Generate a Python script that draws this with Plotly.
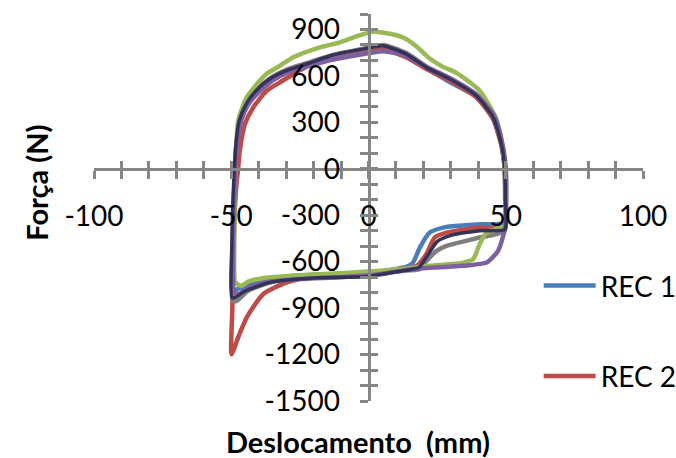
import plotly.graph_objects as go

# ---- data ----
rec1_x = [-49.6, -49.4, -49.1, -48.7, -48.1, -46.9, -44.4, -40.8, -35.9, -29.9, -22.6, -12.9, -0.7, 5.3, 13.8, 21.1, 29.6, 39.3, 45.4, 48.4, 49.6, 49.8, 49.6, 40.5, 28.4, 22.3, 18.7, 16.2, 13.8, 10, 0, -10, -20, -30, -38, -44, -47.5, -49.6]
rec1_y = [-790, -500, -250, -13, 160, 310, 418, 504, 580, 634, 677, 730, 774, 790, 738, 650, 560, 465, 330, 160, 8, -200, -347, -358, -375, -412, -509, -606, -634, -648, -670, -678, -685, -695, -712, -745, -775, -790]

rec2_x = [-49.9, -49.6, -49.3, -48.8, -48.1, -47.5, -46.9, -45.0, -42.0, -37.1, -32.3, -22.6, -12.9, -0.7, 5.3, 13.8, 21.1, 29.6, 39.3, 45.4, 48.4, 49.6, 49.8, 49.6, 40.5, 28.4, 24.1, 21.1, 17.5, 10, 0, -10, -20, -30, -38.4, -44.4, -47.5, -49.9]
rec2_y = [-1198, -900, -600, -300, -100, 0, 116, 289, 396, 504, 558, 660, 720, 760, 770, 720, 645, 570, 462, 320, 150, 0, -200, -379, -379, -412, -444, -551, -627, -650, -675, -680, -690, -735, -810, -961, -1090, -1198]

rec3_x = [-48.7, -48.9, -48.8, -48.5, -48.1, -47.5, -44.4, -39.6, -37.2, -32.3, -27.4, -17.7, -10.4, -4.4, 1.7, 7.8, 13.0, 17.5, 22.3, 27.0, 32.0, 40.5, 46.6, 49.0, 49.8, 49.8, 49.6, 43.0, 40.5, 38.1, 34.4, 22.3, 4.1, -10, -25, -38, -44, -46.2, -47.8, -48.7]
rec3_y = [-724, -500, -250, 0, 160, 310, 461, 569, 612, 665, 720, 784, 817, 855, 885, 872, 845, 790, 712, 660, 620, 505, 320, 120, -10, -200, -368, -412, -487, -584, -606, -627, -659, -675, -688, -705, -730, -756, -745, -724]

rec4_x = [-49.0, -49.3, -49.0, -48.5, -47.8, -46.5, -44.0, -40.0, -35.0, -29.9, -22.6, -12.9, -0.7, 5.3, 13.8, 21.1, 29.6, 39.3, 45.8, 48.8, 50.0, 50.2, 49.8, 47.2, 43.0, 34.4, 16.2, 4.1, -10, -25, -38, -44, -47.5, -49.0]
rec4_y = [-790, -500, -250, 0, 160, 300, 410, 495, 570, 620, 660, 705, 745, 760, 730, 655, 585, 480, 340, 160, 0, -200, -379, -530, -606, -627, -648, -681, -700, -712, -735, -770, -810, -790]

rec5_x = [-49.3, -49.3, -49.0, -48.7, -48.0, -46.8, -44.3, -40.8, -35.9, -29.9, -22.6, -12.9, -0.7, 5.3, 13.8, 21.1, 29.6, 39.3, 45.4, 48.4, 49.6, 49.8, 49.6, 40.5, 28.4, 24.8, 21.1, 18.7, 10, 0, -20, -35, -44, -48, -49.3]
rec5_y = [-853, -500, -250, 0, 170, 320, 425, 510, 585, 640, 682, 735, 780, 800, 748, 662, 585, 478, 335, 162, 8, -200, -401, -444, -498, -530, -595, -648, -662, -690, -700, -730, -790, -853, -853]

rec6_x = [-49.8, -49.8, -49.5, -48.9, -48.3, -47.1, -44.6, -41.0, -36.0, -30.0, -22.6, -12.9, -0.7, 5.3, 13.8, 21.1, 29.6, 39.3, 45.4, 48.4, 49.6, 49.8, 49.7, 40.5, 30.0, 25.0, 21.5, 18.5, 15.0, 10, 0, -20, -35, -45, -48.7, -49.8]
rec6_y = [-832, -500, -250, -13, 160, 310, 418, 504, 580, 634, 677, 735, 778, 795, 741, 655, 580, 472, 332, 160, 8, -200, -390, -400, -430, -470, -560, -635, -652, -665, -695, -705, -730, -790, -832, -832]

draw_names = ["REC 1", "REC 2", "REC 5", "REC 3", "REC 4", "REC 6"]
series_x = [rec1_x, rec2_x, rec5_x, rec3_x, rec4_x, rec6_x]
series_y = [rec1_y, rec2_y, rec5_y, rec3_y, rec4_y, rec6_y]
colors = {"REC 1": "#4A7EBB", "REC 2": "#BE4B48", "REC 3": "#98B954",
          "REC 4": "#7D60A0", "REC 5": "#7F7F7F", "REC 6": "#35325A"}
widths = {"REC 1": 4.5, "REC 2": 4.5, "REC 3": 4.5, "REC 4": 4.5, "REC 5": 4.5, "REC 6": 3.5}
legend_shown = ["REC 1", "REC 2"]

x_ticks = list(range(-100, 101, 10))
x_labels = [str(v) if v % 50 == 0 else "" for v in x_ticks]
y_ticks = list(range(-1500, 1001, 100))
y_labels = [str(v) if v % 300 == 0 else "" for v in y_ticks]

AX = "#868686"
FONT = "Lato"

fig = go.Figure()
for name, xs, ys in zip(draw_names, series_x, series_y):
    fig.add_trace(go.Scatter(
        x=xs, y=ys, mode="lines", name=name,
        line=dict(color=colors[name], width=widths[name], shape="spline", smoothing=0.6),
        showlegend=name in legend_shown, legendgroup=name,
        legendrank={"REC 1": 1, "REC 2": 2}.get(name, 10),
    ))
# helper trace to realise the overlay axes (crossing tick marks)
fig.add_trace(go.Scatter(x=[None], y=[None], xaxis="x2", yaxis="y2",
                         showlegend=False, hoverinfo="skip"))

common = dict(showgrid=False, zeroline=False, showline=False)
fig.update_layout(
    width=676, height=458,
    margin=dict(l=94, r=33, t=14, b=57, autoexpand=False),
    paper_bgcolor="white", plot_bgcolor="white",
    font=dict(family=FONT, color="black", size=28),
    xaxis=dict(range=[-100, 100], anchor="free", position=0.6,
               showline=True, linecolor=AX, linewidth=3,
               ticks="outside", ticklen=8, tickwidth=3, tickcolor=AX,
               tickvals=x_ticks, ticktext=x_labels, ticklabelstandoff=14,
               showgrid=False, zeroline=False, tickfont=dict(size=28)),
    yaxis=dict(range=[-1500, 1000], anchor="free", position=0.5,
               showline=True, linecolor=AX, linewidth=3,
               ticks="outside", ticklen=8, tickwidth=3, tickcolor=AX,
               tickvals=y_ticks, ticktext=y_labels, ticklabelstandoff=14,
               showgrid=False, zeroline=False, tickfont=dict(size=28)),
    xaxis2=dict(range=[-100, 100], overlaying="x", anchor="free", position=0.6,
                ticks="inside", ticklen=8, tickwidth=3, tickcolor=AX,
                tickvals=x_ticks, showticklabels=False, **common),
    yaxis2=dict(range=[-1500, 1000], overlaying="y", anchor="free", position=0.5,
                ticks="inside", ticklen=8, tickwidth=3, tickcolor=AX,
                tickvals=y_ticks, showticklabels=False, **common),
    legend=dict(x=0.81, y=0.362, xanchor="left", yanchor="top",
                bgcolor="rgba(0,0,0,0)", tracegroupgap=51, itemwidth=52,
                font=dict(size=28, family=FONT)),
    showlegend=True,
)
fig.add_annotation(text="<b>Deslocamento\u00a0 (mm)</b>", xref="paper", yref="paper",
                   x=0.48, y=-0.104, showarrow=False, font=dict(size=29, family=FONT),
                   xanchor="center", yanchor="middle")
fig.add_annotation(text="<b>Força (N)</b>", xref="paper", yref="paper",
                   x=-0.105, y=0.565, showarrow=False, textangle=-90,
                   font=dict(size=29, family=FONT), xanchor="center", yanchor="middle")

fig.write_html("out.html", config={"displayModeBar": False},
               post_script="document.body.style.margin='0px';")
